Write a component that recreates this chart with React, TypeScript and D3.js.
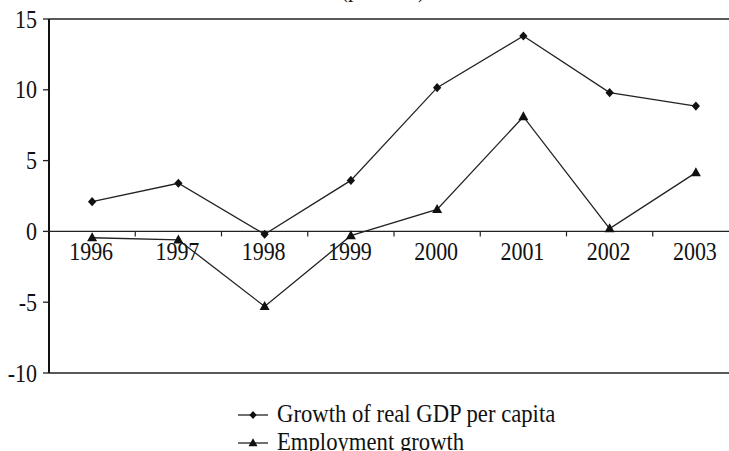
import React from "react";
import * as d3 from "d3";

const years = ["1996", "1997", "1998", "1999", "2000", "2001", "2002", "2003"];
const gdpGrowth = [2.1, 3.4, -0.2, 3.6, 10.15, 13.8, 9.8, 8.85];
const employmentGrowth = [-0.45, -0.6, -5.3, -0.3, 1.55, 8.1, 0.2, 4.15];
const yTicks = [15, 10, 5, 0, -5, -10];
const seriesNames = ["Growth of real GDP per capita", "Employment growth"];

const W = 729;
const H = 451;
const left = 49;
const right = 739;
const top = 19;
const bottom = 373;
const font = "Liberation Serif";
const SY = 1.15;
const ink = "#111";

function Diamond({ x, y, r = 4.6 }: { x: number; y: number; r?: number }) {
  return <path d={`M${x},${y - r}L${x + r * 0.9},${y}L${x},${y + r}L${x - r * 0.9},${y}Z`} fill="#111" />;
}
function Triangle({ x, y, s = 10 }: { x: number; y: number; s?: number }) {
  const h = s * 0.9;
  return <path d={`M${x},${y - h * 0.6}L${x + s / 2},${y + h * 0.4}L${x - s / 2},${y + h * 0.4}Z`} fill="#111" />;
}

export default function App() {
  const x = d3.scaleBand<string>().domain(years).range([left, right]).padding(0);
  const y = d3.scaleLinear().domain([-10, 15]).range([bottom, top]);
  const cx = (d: string) => (x(d) as number) + x.bandwidth() / 2;
  const line = d3
    .line<number>()
    .x((_, i) => cx(years[i]))
    .y((v) => y(v));
  const y0 = y(0);
  const bandEdges = years.slice(1).map((d) => x(d) as number);

  return (
    <svg width={W} height={H} style={{ position: "absolute", left: 0, top: 0, background: "#fff" }}>
      <text
        transform={`translate(383,-3.5) scale(1,${SY})`}
        textAnchor="middle"
        fontFamily={font}
        fontSize={22}
        fill={ink}
      >
        (per cent)
      </text>
      {/* frame */}
      <line x1={left} x2={W} y1={top} y2={top} stroke="#222" strokeWidth={1.6} />
      <line x1={left} x2={W} y1={bottom} y2={bottom} stroke="#222" strokeWidth={1.6} />
      <line x1={left} x2={left} y1={top} y2={bottom} stroke="#111" strokeWidth={2} />
      {/* zero line */}
      <line x1={left} x2={W} y1={y0} y2={y0} stroke="#222" strokeWidth={1.3} />
      {bandEdges.map((e, i) => (
        <line key={i} x1={e} x2={e} y1={y0} y2={y0 + 5} stroke="#222" strokeWidth={1.2} />
      ))}
      {/* y ticks */}
      {yTicks.map((t) => (
        <g key={t}>
          <line x1={left - 6} x2={left} y1={y(t)} y2={y(t)} stroke="#222" strokeWidth={1.3} />
          <text
            transform={`translate(37,${y(t) + 8.5}) scale(1,${SY})`}
            textAnchor="end"
            fontFamily={font}
            fontSize={22}
            fill={ink}
          >
            {t}
          </text>
        </g>
      ))}
      {/* year labels */}
      {years.map((d) => (
        <text
          key={d}
          transform={`translate(${cx(d) - 1},260) scale(1,${SY})`}
          textAnchor="middle"
          fontFamily={font}
          fontSize={22}
          fill={ink}
        >
          {d}
        </text>
      ))}
      {/* series */}
      <path d={line(gdpGrowth) || ""} fill="none" stroke="#222" strokeWidth={1.3} />
      <path d={line(employmentGrowth) || ""} fill="none" stroke="#222" strokeWidth={1.3} />
      {gdpGrowth.map((v, i) => (
        <Diamond key={i} x={cx(years[i])} y={y(v)} />
      ))}
      {employmentGrowth.map((v, i) => (
        <Triangle key={i} x={cx(years[i])} y={y(v)} />
      ))}
      {/* legend */}
      <g>
        <line x1={238} x2={268} y1={415} y2={415} stroke="#222" strokeWidth={1.3} />
        <Diamond x={253} y={415} r={4} />
        <text
          transform={`translate(277,422) scale(1,${SY})`}
          fontFamily={font}
          fontSize={22.7}
          fill={ink}
        >
          {seriesNames[0]}
        </text>
        <line x1={238} x2={268} y1={443} y2={443} stroke="#222" strokeWidth={1.3} />
        <Triangle x={253} y={443} s={9} />
        <text
          transform={`translate(277,450) scale(1,${SY})`}
          fontFamily={font}
          fontSize={22.7}
          fill={ink}
        >
          {seriesNames[1]}
        </text>
      </g>
    </svg>
  );
}
